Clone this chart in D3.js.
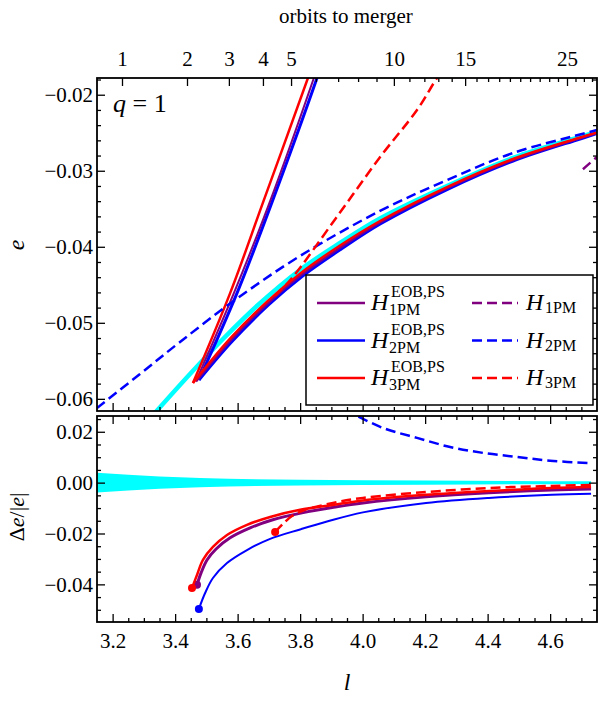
<!DOCTYPE html>
<html><head><meta charset="utf-8">
<script src="https://cdn.jsdelivr.net/npm/d3@7"></script>
<style>body{margin:0;background:#fff}svg{display:block}text{font-family:"Liberation Serif","DejaVu Serif",serif;fill:#000}</style>
</head><body>
<svg id="c" width="600" height="703"></svg>
<script>
// ---------- data (l = x, e = top panel y, d = bottom panel Δe/|e|) ----------
const nrL   = [3.3324,3.4476,3.5532,3.6652,3.7996,3.9276,4.0556,4.270,4.4812,4.6956,4.750];
const nrE   = [-0.06199,-0.05673,-0.05213,-0.04766,-0.04305,-0.03950,-0.03628,-0.03201,-0.02832,-0.02556,-0.02490];

const eob3SteepL = [3.457,3.576,3.681,3.825,3.838];
const eob3SteepE = [-0.05792,-0.0461,-0.0342,-0.0178,-0.0162];
const eob2SteepL = [3.476,3.598,3.713,3.854,3.867];
const eob2SteepE = [-0.05752,-0.0461,-0.0338,-0.0178,-0.0162];
const eob1SteepL = [3.467,3.588,3.704,3.844,3.857];
const eob1SteepE = [-0.05765,-0.0461,-0.0340,-0.0178,-0.0162];

const eob3L = [3.4572,3.5756,3.694,3.7996,3.9276,4.0556,4.270,4.4812,4.6956,4.750];
const eob3E = [-0.05792,-0.05208,-0.04721,-0.04353,-0.03983,-0.03661,-0.03214,-0.02845,-0.02563,-0.02497];
const eob2L = [3.4764,3.582,3.7004,3.806,3.934,4.0588,4.270,4.4812,4.6956,4.750];
const eob2E = [-0.05752,-0.05246,-0.04759,-0.04391,-0.04023,-0.03694,-0.03247,-0.02872,-0.02582,-0.0251];
const eob1L = [3.4668,3.5788,3.6972,3.8028,3.9308,4.0572,4.270,4.4812,4.6956,4.750];
const eob1E = [-0.05772,-0.05226,-0.04740,-0.04371,-0.04003,-0.03677,-0.03230,-0.02859,-0.02572,-0.02504];

const h2L = [3.15,3.2876,3.4156,3.5916,3.7996,4.0556,4.270,4.4812,4.6956,4.750];
const h2E = [-0.06121,-0.05673,-0.05252,-0.0470,-0.04121,-0.03529,-0.03122,-0.02767,-0.02523,-0.02464];
const h3L = [3.7196,3.774,3.915,4.056,4.174,4.238,4.267];
const h3E = [-0.04647,-0.04411,-0.03621,-0.02819,-0.02201,-0.0178,-0.0162];
const h1L = [4.705,4.750,4.775];
const h1E = [-0.0298,-0.02819,-0.0274];

// bottom panel
const bandL  = [3.15,3.35,3.48,3.80,4.20,4.731];
const bandHW = [0.0039,0.0024,0.0018,0.0011,0.0008,0.0005];

const d3sL = [3.454,3.47,3.489,3.521,3.566,3.63,3.704,3.80,3.905,4.001,4.203,4.404,4.606,4.731];
const d3sD = [-0.0414,-0.0363,-0.0304,-0.0253,-0.0206,-0.0166,-0.0135,-0.0107,-0.0088,-0.0070,-0.0048,-0.0033,-0.0021,-0.0017];
const d1sL = [3.47,3.483,3.502,3.531,3.576,3.64,3.71,3.806,3.912,4.001,4.203,4.404,4.606,4.731];
const d1sD = [-0.0402,-0.0355,-0.0304,-0.0261,-0.0217,-0.0178,-0.0147,-0.0119,-0.0096,-0.0080,-0.0056,-0.0040,-0.0029,-0.0025];
const d2sL = [3.476,3.496,3.521,3.566,3.63,3.704,3.80,3.886,4.001,4.203,4.404,4.606,4.731];
const d2sD = [-0.0497,-0.0434,-0.0375,-0.0316,-0.0265,-0.0221,-0.0184,-0.0153,-0.0117,-0.0080,-0.0060,-0.0048,-0.0044];
const d3dL = [3.72,3.745,3.774,3.816,3.905,4.001,4.203,4.404,4.606,4.731];
const d3dD = [-0.0194,-0.0162,-0.0131,-0.0107,-0.0080,-0.0060,-0.0037,-0.0021,-0.0013,-0.0009];
const d2dL = [3.944,4.065,4.174,4.28,4.385,4.494,4.60,4.731];
const d2dD = [0.0286,0.0215,0.0176,0.0140,0.0117,0.0101,0.0086,0.0077];

// axis ticks
const xMajor = [3.2,3.4,3.6,3.8,4.0,4.2,4.4,4.6];
const orbitLabels = ["1","2","3","4","5","10","15","25"];
const orbitL = [3.230,3.438,3.572,3.681,3.771,4.100,4.328,4.654];
const orbitMinorL = [3.8505,3.9216,3.9855,4.0444,4.1497,4.1975,4.2422,4.285,4.3644,4.4015,4.437,4.4713,4.5043,4.5359,4.5666,4.597,4.6252,4.6812,4.708,4.734];
const yTopMajor = [-0.06,-0.05,-0.04,-0.03,-0.02];
const yBotMajor = [-0.04,-0.02,0.00,0.02];

const legendSolid = [{c:"#800080",sub:"1PM"},{c:"#0000ff",sub:"2PM"},{c:"#ff0000",sub:"3PM"}];

// ---------- layout ----------
const L = 97, R = 597, T1 = 78, B1 = 411, T2 = 416, B2 = 622;
const x  = d3.scaleLinear().domain([3.15,4.75]).range([L,R]);
const yT = d3.scaleLinear().domain([-0.0616,-0.0178]).range([B1,T1]);
const yB = d3.scaleLinear().domain([-0.0548,0.0262]).range([B2,T2]);

const svg = d3.select("#c");
const defs = svg.append("defs");
defs.append("clipPath").attr("id","cT").append("rect").attr("x",L).attr("y",T1).attr("width",R-L).attr("height",B1-T1);
defs.append("clipPath").attr("id","cB").append("rect").attr("x",L-3).attr("y",T2).attr("width",R-L+3).attr("height",B2-T2);

const zip = (a,b)=>a.map((v,i)=>[v,b[i]]);
const cv = d3.curveCatmullRom.alpha(0.5);
const lineT = d3.line().x(d=>x(d[0])).y(d=>yT(d[1])).curve(cv);
const lineB = d3.line().x(d=>x(d[0])).y(d=>yB(d[1])).curve(cv);

// ---------- top panel ----------
const gT = svg.append("g").attr("clip-path","url(#cT)");
function pathT(Ls,Es,col,w,dash){
  gT.append("path").attr("d",lineT(zip(Ls,Es))).attr("fill","none").attr("stroke",col)
    .attr("stroke-width",w).attr("stroke-dasharray",dash||null);
}
pathT(nrL,nrE,"#00ffff",4.5);
pathT(eob2SteepL,eob2SteepE,"#0000ff",3);
pathT(eob1SteepL,eob1SteepE,"#800080",2);
pathT(eob3SteepL,eob3SteepE,"#ff0000",2.5);
pathT(eob2L,eob2E,"#0000ff",3);
pathT(eob1L,eob1E,"#800080",2.5);
pathT(eob3L,eob3E,"#ff0000",2.5);
pathT(h2L,h2E,"#0000ff",2.5,"10,5");
pathT(h3L,h3E,"#ff0000",2.5,"10,5");
pathT(h1L,h1E,"#800080",2.5,"10,5");

// ---------- bottom panel ----------
const gB = svg.append("g").attr("clip-path","url(#cB)");
const area = d3.area().x(d=>x(d[0])).y0(d=>yB(-d[1])).y1(d=>yB(d[1])).curve(d3.curveMonotoneX);
gB.append("path").attr("d",area(zip(bandL,bandHW))).attr("fill","#00ffff");
function pathB(Ls,Ds,col,w,dash,dot){
  gB.append("path").attr("d",lineB(zip(Ls,Ds))).attr("fill","none").attr("stroke",col)
    .attr("stroke-width",w).attr("stroke-dasharray",dash||null);
  if(dot) gB.append("circle").attr("cx",x(Ls[0])).attr("cy",yB(Ds[0])).attr("r",4).attr("fill",col);
}
pathB(d2dL,d2dD,"#0000ff",2.5,"10,5",false);
pathB(d2sL,d2sD,"#0000ff",2,null,true);
pathB(d1sL,d1sD,"#800080",3,null,true);
pathB(d3sL,d3sD,"#ff0000",2.5,null,true);
pathB(d3dL,d3dD,"#ff0000",2.5,"10,5",true);

// ---------- axes ----------
const xMinor = d3.range(3.2,4.74,0.05).filter(v=>!xMajor.some(m=>Math.abs(m-v)<1e-6));
const yTopMinor = d3.range(-0.060,-0.0179,0.002).filter(v=>!yTopMajor.some(m=>Math.abs(m-v)<1e-6));
const yBotMinor = d3.range(-0.050,0.026,0.005).filter(v=>!yBotMajor.some(m=>Math.abs(m-v)<1e-6));
const fmt = d3.format(".2f");

function ax(gen,scale,vals,size,labels,tr,fmtF,pad){
  const a = gen(scale).tickValues(vals).tickSizeInner(size).tickSizeOuter(0).tickPadding(pad||6)
     .tickFormat(labels ? fmtF : "");
  const g = svg.append("g").attr("transform",tr).call(a);
  g.select(".domain").remove();
  g.selectAll(".tick line").attr("stroke","#000").attr("stroke-width",1.3);
  g.selectAll("text").attr("font-size",21).attr("font-family",'"Liberation Serif",serif').attr("fill","#000");
  return g;
}
// bottom of lower panel
ax(d3.axisBottom,x,xMajor,-8,true,`translate(0,${B2})`,d3.format(".1f"),11);
ax(d3.axisBottom,x,xMinor,-4,false,`translate(0,${B2})`);
// top of lower panel
ax(d3.axisTop,x,xMajor,-8,false,`translate(0,${T2})`);
ax(d3.axisTop,x,xMinor,-4,false,`translate(0,${T2})`);
// bottom of upper panel
ax(d3.axisBottom,x,xMajor,-8,false,`translate(0,${B1})`);
ax(d3.axisBottom,x,xMinor,-4,false,`translate(0,${B1})`);
// orbits top axis
ax(d3.axisTop,x,orbitL,-8,true,`translate(0,${T1})`,(d,i)=>orbitLabels[i]).selectAll("text").attr("dy","-0.3em");
ax(d3.axisTop,x,orbitMinorL,-4,false,`translate(0,${T1})`);
// y axes upper
ax(d3.axisLeft,yT,yTopMajor,-8,true,`translate(${L},0)`,fmt,4);
ax(d3.axisLeft,yT,yTopMinor,-4,false,`translate(${L},0)`);
ax(d3.axisRight,yT,yTopMajor,-8,false,`translate(${R},0)`);
ax(d3.axisRight,yT,yTopMinor,-4,false,`translate(${R},0)`);
// y axes lower
ax(d3.axisLeft,yB,yBotMajor,-8,true,`translate(${L},0)`,fmt,4);
ax(d3.axisLeft,yB,yBotMinor,-4,false,`translate(${L},0)`);
ax(d3.axisRight,yB,yBotMajor,-8,false,`translate(${R},0)`);
ax(d3.axisRight,yB,yBotMinor,-4,false,`translate(${R},0)`);

// frames
svg.append("rect").attr("x",L).attr("y",T1).attr("width",R-L).attr("height",B1-T1).attr("fill","none").attr("stroke","#000").attr("stroke-width",1.8);
svg.append("rect").attr("x",L).attr("y",T2).attr("width",R-L).attr("height",B2-T2).attr("fill","none").attr("stroke","#000").attr("stroke-width",1.8);

// ---------- legend ----------
const lg = svg.append("g");
lg.append("rect").attr("x",306).attr("y",275).attr("width",287).attr("height",130).attr("fill","#fff").attr("stroke","#000").attr("stroke-width",1.5);
const rowY = [303,340.5,378];
legendSolid.forEach((s,i)=>{
  const y = rowY[i];
  lg.append("line").attr("x1",317).attr("x2",365).attr("y1",y).attr("y2",y).attr("stroke",s.c).attr("stroke-width",2.5);
  lg.append("text").attr("x",371).attr("y",y+7).attr("font-size",24).attr("font-style","italic").text("H");
  lg.append("text").attr("x",391).attr("y",y-6).attr("font-size",16).text("EOB,PS");
  lg.append("text").attr("x",389).attr("y",y+12).attr("font-size",16).text(s.sub);
  lg.append("line").attr("x1",472).attr("x2",518).attr("y1",y).attr("y2",y).attr("stroke",s.c).attr("stroke-width",2.5).attr("stroke-dasharray","10,5");
  lg.append("text").attr("x",526).attr("y",y+7).attr("font-size",24).attr("font-style","italic").text("H");
  lg.append("text").attr("x",545).attr("y",y+10).attr("font-size",16).text(s.sub);
});

// ---------- labels ----------
svg.append("text").attr("x",346).attr("y",23).attr("text-anchor","middle").attr("font-size",21).text("orbits to merger");
const q = svg.append("text").attr("x",113).attr("y",112).attr("font-size",26);
q.append("tspan").attr("font-style","italic").text("q");
q.append("tspan").text(" = 1");
svg.append("text").attr("transform","translate(24,245) rotate(-90)").attr("text-anchor","middle").attr("font-size",24).attr("font-style","italic").text("e");
const dl = svg.append("text").attr("transform","translate(24,517) rotate(-90)").attr("text-anchor","middle").attr("font-size",22);
dl.append("tspan").text("Δ");
dl.append("tspan").attr("font-style","italic").text("e");
dl.append("tspan").text("/|");
dl.append("tspan").attr("font-style","italic").text("e");
dl.append("tspan").text("|");
svg.append("text").attr("x",347).attr("y",690).attr("text-anchor","middle").attr("font-size",24).attr("font-style","italic").text("l");
</script>
</body></html>
